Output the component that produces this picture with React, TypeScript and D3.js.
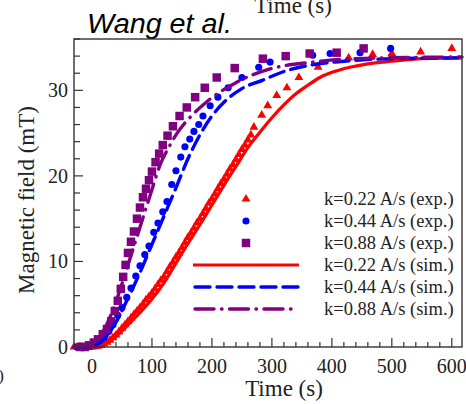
import React from 'react';
import * as d3 from 'd3';

// ---- data (t in s, B in mT) ----
const redExp: [number, number][] = [
  [-30, 0], [-22, 0], [-15, 0], [-8, 0], [0, 0], [5, 0.05], [10, 0.1], [15, 0.2], [20, 0.35], [25, 0.55],
  [30, 0.8], [35, 1.1], [40, 1.4], [45, 1.8], [50, 2.2], [55, 2.6], [60, 3.0], [65, 3.4],
  [70, 3.8], [75, 4.2], [80, 4.6], [85, 5.0], [90, 5.5], [95, 5.9], [100, 6.3], [105, 6.8],
  [110, 7.3], [115, 7.8], [120, 8.2], [125, 8.8], [130, 9.4], [135, 9.9], [140, 10.5],
  [145, 11.0], [150, 11.6], [155, 12.2], [160, 12.8], [165, 13.3], [170, 13.9], [175, 14.5],
  [180, 15.0], [185, 15.6], [190, 16.2], [195, 16.8], [200, 17.3], [205, 17.9], [210, 18.5],
  [215, 19.1], [220, 19.6], [225, 20.2], [230, 20.8], [235, 21.3], [240, 21.9], [245, 22.5],
  [250, 23.1], [255, 23.6], [260, 24.2], [265, 24.8], [270, 25.7], [283, 27.1], [293, 28.2],
  [308, 29.4], [325, 30.3], [345, 31.5], [377, 32.7], [428, 33.8], [468, 34.2], [500, 34.3],
  [548, 34.5], [600, 34.9],
];
const blueExp: [number, number][] = [
  [-25, 0], [-18, 0], [-10, 0], [-3, 0.05], [5, 0.2], [13, 0.6], [20, 1.1], [28, 1.8],
  [35, 2.6], [43, 3.7], [50, 4.6], [58, 5.8], [65, 6.9], [73, 8.3], [80, 9.5], [88, 10.8],
  [95, 11.8], [103, 13.4], [110, 14.5], [118, 15.8], [125, 17.0], [133, 19.0], [140, 20.6],
  [148, 22.2], [155, 23.4], [163, 24.3], [170, 25.2], [178, 26.0], [185, 27.0], [197, 28.2],
  [210, 29.2], [227, 30.3], [250, 31.5], [278, 32.7], [297, 33.3], [368, 34.1], [397, 34.3],
  [447, 34.4], [498, 34.9],
];
const purpleExp: [number, number][] = [
  [-20, 0], [-12, 0], [-5, 0.2], [3, 0.5], [10, 0.9], [18, 1.5], [25, 2.1], [32, 3.0],
  [38, 4.2], [43, 5.4], [48, 6.8], [52, 8.2], [56, 9.6], [60, 11.0], [65, 12.3], [70, 13.5],
  [75, 15.0], [80, 16.3], [85, 17.5], [90, 18.5], [95, 19.5], [100, 20.5], [106, 21.6],
  [112, 22.6], [118, 23.6], [126, 24.7], [135, 25.8], [146, 27.0], [158, 28.0], [172, 29.2],
  [188, 30.3], [208, 31.5], [238, 32.6], [285, 33.7], [323, 34.0], [363, 34.3], [408, 34.4],
  [453, 34.9],
];
const redSim: [number, number][] = [
  [0, 0], [20, 0.3], [40, 1.2], [60, 2.6], [80, 4.0], [100, 5.6], [120, 7.5], [140, 9.8],
  [160, 12.1], [180, 14.3], [200, 16.6], [220, 18.9], [240, 21.1], [260, 23.3], [280, 25.1],
  [300, 26.8], [320, 28.3], [340, 29.6], [360, 30.6], [380, 31.5], [400, 32.1], [430, 32.7],
  [460, 33.1], [500, 33.4], [550, 33.7], [617, 33.8],
];
const blueSim: [number, number][] = [
  [-30, 0], [0, 0.1], [20, 0.9], [40, 2.9], [60, 5.7], [80, 8.7], [100, 12.0], [120, 15.3],
  [140, 18.6], [160, 22.0], [180, 24.8], [200, 27.0], [220, 28.6], [250, 30.2], [285, 31.2],
  [320, 32.2], [360, 32.9], [420, 33.4], [500, 33.7], [617, 33.8],
];
const purpleSim: [number, number][] = [
  [-30, 0], [0, 0.3], [20, 2.0], [40, 5.3], [60, 9.6], [80, 14.0], [100, 18.4], [113, 21.2],
  [127, 23.2], [142, 25.0], [167, 27.1], [192, 28.7], [240, 30.9], [297, 32.5], [368, 33.3],
  [435, 33.7], [617, 33.9],
];
const xTicks = [0, 100, 200, 300, 400, 500, 600];
const yTicks = [0, 10, 20, 30];
const legendLabels = [
  'k=0.22 A/s (exp.)', 'k=0.44 A/s (exp.)', 'k=0.88 A/s (exp.)',
  'k=0.22 A/s (sim.)', 'k=0.44 A/s (sim.)', 'k=0.88 A/s (sim.)',
];

const RED = '#ff0000';
const BLUE = '#0000ff';
const PURPLE = '#800080';
const AX = '#333';
const SERIF = '"Liberation Serif", "DejaVu Serif", serif';

export default function App() {
  const W = 466, H = 404;
  const L = 74, R = 462, T = 39, B = 347;
  const x = d3.scaleLinear().domain([-30, 617]).range([L, R]);
  const y = d3.scaleLinear().domain([0, 36]).range([B, T]);
  const line = d3.line<[number, number]>().x(d => x(d[0])).y(d => y(d[1])).curve(d3.curveMonotoneX);

  const tri = d3.symbol().type(d3.symbolTriangle).size(34)()!;
  const circ = d3.symbol().type(d3.symbolCircle).size(40)()!;
  const sq = d3.symbol().type(d3.symbolSquare).size(72)()!;

  const xMinor = d3.range(-20, 617, 20);
  const yMinor = d3.range(0, 36.01, 2);

  const legY = (i: number) => 199 + i * 22;

  return (
    <svg width={W} height={H} style={{ position: 'absolute', left: 0, top: 0, background: '#fff' }}>
      <rect x={0} y={0} width={W} height={H} fill="#fff" />
      {/* top partial title */}
      <text x={293} y={13} textAnchor="middle" fontFamily={SERIF} fontSize={23} fill="#222">Time (s)</text>
      <text x={87} y={33} fontFamily='"Liberation Sans", Arial, sans-serif' fontStyle="italic" fontSize={27}
        textLength={145} lengthAdjust="spacingAndGlyphs" fill="#000">Wang et al.</text>
      <text x={4} y={381} textAnchor="end" fontFamily={SERIF} fontSize={17} fill="#222">(a)</text>

      {/* ticks */}
      {xMinor.map(t => (
        <line key={'xm' + t} x1={x(t)} x2={x(t)} y1={B} y2={B - (t % 100 === 0 ? 9 : 5)} stroke={AX} strokeWidth={1.2} />
      ))}
      {yMinor.map(v => (
        <line key={'ym' + v} x1={L} x2={L + (v % 10 === 0 ? 9 : 6)} y1={y(v)} y2={y(v)} stroke={AX} strokeWidth={1.2} />
      ))}
      {xTicks.map(t => (
        <text key={'xt' + t} x={x(t)} y={373} textAnchor="middle" fontFamily={SERIF} fontSize={20} fill="#222">{t}</text>
      ))}
      {yTicks.map(v => (
        <text key={'yt' + v} x={68} y={y(v) + 7} textAnchor="end" fontFamily={SERIF} fontSize={20} fill="#222">{v}</text>
      ))}
      <text x={284} y={396} textAnchor="middle" fontFamily={SERIF} fontSize={23} fill="#222">Time (s)</text>
      <text transform={`translate(34,${200}) rotate(-90)`} textAnchor="middle" fontFamily={SERIF} fontSize={23} fill="#222">Magnetic field (mT)</text>

      {/* experimental markers */}
      {redExp.map((d, i) => (
        <path key={'r' + i} d={tri} transform={`translate(${x(d[0])},${y(d[1])})`} fill={RED} />
      ))}
      {blueExp.map((d, i) => (
        <path key={'b' + i} d={circ} transform={`translate(${x(d[0])},${y(d[1])})`} fill={BLUE} />
      ))}
      {purpleExp.map((d, i) => (
        <path key={'p' + i} d={sq} transform={`translate(${x(d[0])},${y(d[1])})`} fill={PURPLE} />
      ))}

      {/* simulation lines */}
      <path d={line(redSim)!} fill="none" stroke={RED} strokeWidth={3.2} />
      <path d={line(blueSim)!} fill="none" stroke={BLUE} strokeWidth={3.4} strokeDasharray="15,7" strokeLinecap="round" />
      <path d={line(purpleSim)!} fill="none" stroke={PURPLE} strokeWidth={3.4} strokeDasharray="19,7.5,0.5,7.5" strokeLinecap="round" />

      {/* frame */}
      <rect x={L} y={T} width={R - L} height={B - T} fill="none" stroke={AX} strokeWidth={1.4} />

      {/* legend */}
      <path d={tri} transform={`translate(246,${legY(0)})`} fill={RED} />
      <path d={circ} transform={`translate(246,${legY(1)})`} fill={BLUE} />
      <path d={sq} transform={`translate(246,${legY(2)})`} fill={PURPLE} />
      <line x1={193} x2={299} y1={legY(3)} y2={legY(3)} stroke={RED} strokeWidth={3.2} />
      <line x1={195} x2={298} y1={legY(4)} y2={legY(4)} stroke={BLUE} strokeWidth={3.4} strokeDasharray="15,7" strokeLinecap="round" />
      <line x1={195} x2={291} y1={legY(5)} y2={legY(5)} stroke={PURPLE} strokeWidth={3.4} strokeDasharray="19,7.5,0.5,7.5" strokeLinecap="round" />
      {legendLabels.map((s, i) => (
        <text key={'lg' + i} x={324} y={legY(i) + 6} fontFamily={SERIF} fontSize={18.5} fill="#222">{s}</text>
      ))}
    </svg>
  );
}
